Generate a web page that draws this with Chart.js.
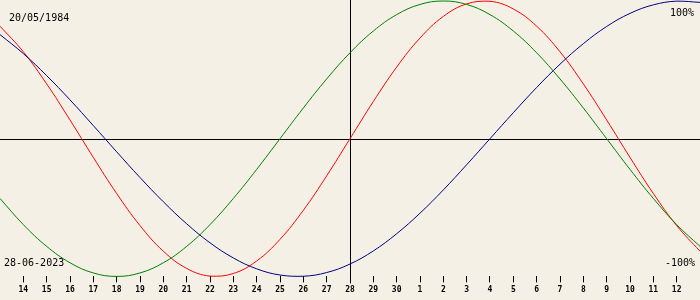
<!DOCTYPE html>
<html>
<head>
<meta charset="utf-8">
<script src="https://cdn.jsdelivr.net/npm/chart.js@4/dist/chart.umd.min.js"></script>
<style>
  html, body { margin: 0; padding: 0; background: #f4f0e5; }
  #wrap { width: 700px; height: 300px; position: relative; }
</style>
</head>
<body>
<div id="wrap"><canvas id="chart"></canvas></div>
<script>
// days shown: 13 June .. 13 July 2023, centre = 28 June
const days = ['13','14','15','16','17','18','19','20','21','22','23','24','25','26','27','28',
              '29','30','1','2','3','4','5','6','7','8','9','10','11','12','13'];
// percent values, one per day
const physical = [81.7, 63.1, 39.8, 13.6, -13.6, -39.8, -63.1, -81.7, -94.2, -99.8, -97.9, -88.8, -73.1, -52.0, -27.0, 0,
                  27.0, 52.0, 73.1, 88.8, 97.9, 99.8, 94.2, 81.7, 63.1, 39.8, 13.6, -13.6, -39.8, -63.1, -81.7];
const emotional = [-43.4, -62.4, -78.2, -90.1, -97.5, -100, -97.5, -90.1, -78.2, -62.4, -43.4, -22.3, 0, 22.3, 43.4, 62.4,
                   78.2, 90.1, 97.5, 100, 97.5, 90.1, 78.2, 62.4, 43.4, 22.3, 0, -22.3, -43.4, -62.4, -78.2];
const intellectual = [75.6, 61.8, 45.8, 28.2, 9.5, -9.5, -28.2, -45.8, -61.8, -75.6, -86.6, -94.5, -99.0, -99.9, -97.2, -91.0,
                      -81.5, -69.0, -54.1, -37.2, -18.9, 0, 18.9, 37.2, 54.1, 69.0, 81.5, 91.0, 97.2, 99.9, 99.0];
const birthText = '20/05/1984';
const dateText = '28-06-2023';
const centreIndex = 15;

// cross lines and corner texts
const overlay = {
  id: 'overlay',
  beforeDatasetsDraw(c) {
    const ctx = c.ctx, area = c.chartArea;
    const x0 = Math.round(c.scales.x.getPixelForValue(centreIndex)) + 0.5;
    const y0 = Math.round(c.scales.y.getPixelForValue(0)) + 0.5;
    ctx.save();
    ctx.strokeStyle = '#000';
    ctx.lineWidth = 1;
    ctx.beginPath();
    ctx.moveTo(0, y0); ctx.lineTo(c.width, y0);
    ctx.moveTo(x0, 0); ctx.lineTo(x0, area.bottom + 7);
    ctx.stroke();
    ctx.restore();
  },
  afterDraw(c) {
    const ctx = c.ctx;
    ctx.save();
    ctx.fillStyle = '#000';
    ctx.font = '10px "DejaVu Sans Mono"';
    ctx.textAlign = 'left';
    ctx.fillText(birthText, 9, 21);
    ctx.fillText(dateText, 4, 266);
    ctx.textAlign = 'right';
    ctx.fillText('100%', 694, 16);
    ctx.fillText('-100%', 695, 266);
    ctx.restore();
  }
};

const line = (data, color) => ({
  data: data, borderColor: color, borderWidth: 1, pointRadius: 0,
  tension: 0.4, fill: false, clip: false
});

new Chart(document.getElementById('chart'), {
  type: 'line',
  data: {
    labels: days,
    datasets: [
      line(intellectual, '#000080'),
      line(emotional, '#008000'),
      line(physical, '#ff0000')
    ]
  },
  options: {
    responsive: true,
    maintainAspectRatio: false,
    animation: false,
    events: [],
    layout: { padding: { top: 1, left: 0, right: 0, bottom: 2 } },
    plugins: { legend: { display: false }, tooltip: { enabled: false } },
    scales: {
      x: {
        offset: false,
        border: { display: false },
        grid: { drawOnChartArea: false, drawTicks: true, tickLength: 6, color: '#000' },
        ticks: {
          autoSkip: false, maxRotation: 0, padding: 3, color: '#000',
          font: { family: 'DejaVu Sans Mono', size: 8, weight: 'bold' },
          callback: (v, i) => (i === 0 || i === days.length - 1) ? null : days[i]
        }
      },
      y: { display: false, min: -100, max: 100 }
    }
  },
  plugins: [overlay]
});
</script>
</body>
</html>
